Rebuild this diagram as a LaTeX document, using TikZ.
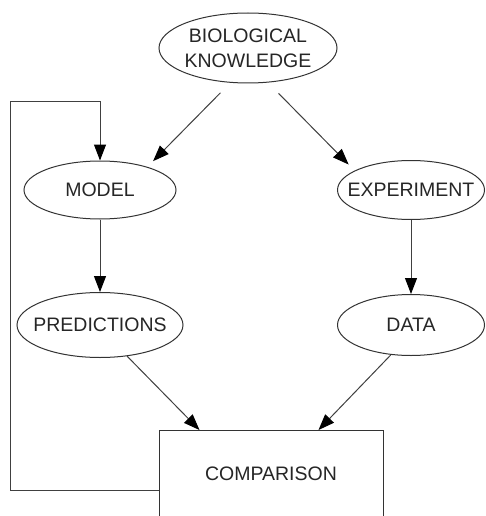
\documentclass[tikz,border=0pt]{standalone}
\usepackage{fontspec}
\setmainfont{Liberation Sans}
\usetikzlibrary{arrows.meta,shapes.geometric}
\begin{document}
\begin{tikzpicture}[x=1pt,y=-1pt,
  every node/.style={font=\fontsize{19.5}{25}\selectfont, text=black!85},
  oval/.style={ellipse, draw=black!80, line width=1pt, inner sep=-25pt},
  box/.style={rectangle, draw=black!80, line width=1pt, inner sep=0pt},
  arr/.style={draw=black!75, line width=1pt,
    -{Triangle[length=16pt,width=12pt,color=black]}}]
  \clip (0,0) rectangle (486,516);
  \fill[white] (0,0) rectangle (486,516);

  % knowledge, the two branches and the comparison box
  \node[oval, minimum width=178pt, minimum height=70pt, align=center]
    (bio) at (248,48) {BIOLOGICAL\\KNOWLEDGE};
  \node[oval, minimum width=152pt, minimum height=58pt] (model) at (100,190) {MODEL};
  \node[oval, minimum width=147pt, minimum height=59pt] (exp) at (411,190) {EXPERIMENT};
  \node[oval, minimum width=166pt, minimum height=65pt] (pred) at (100,325) {PREDICTIONS};
  \node[oval, minimum width=147pt, minimum height=61pt] (data) at (411,325) {DATA};
  \node[box, minimum width=224pt, minimum height=120pt, anchor=north,
    text height=14pt, text depth=34pt] (comp) at (271,430) {COMPARISON};
  \coordinate (turn) at (10,102);

  % flow
  \draw[arr, shorten <=14pt, shorten >=8pt] (bio.243) -- (model.26);
  \draw[arr, shorten <=15pt, shorten >=8.5pt] (bio.300) -- (exp.161);
  \draw[arr] (model.south) -- (pred.north);
  \draw[arr] (exp.south) -- (data.north);
  \draw[arr] (pred.311) -- ([xshift=41pt]comp.north west);
  \draw[arr] (data.236) -- ([xshift=-65pt]comp.north east);

  % feedback loop back into the model
  \draw[arr] (comp.west) -| (turn) -| (model.north);
\end{tikzpicture}
\end{document}
